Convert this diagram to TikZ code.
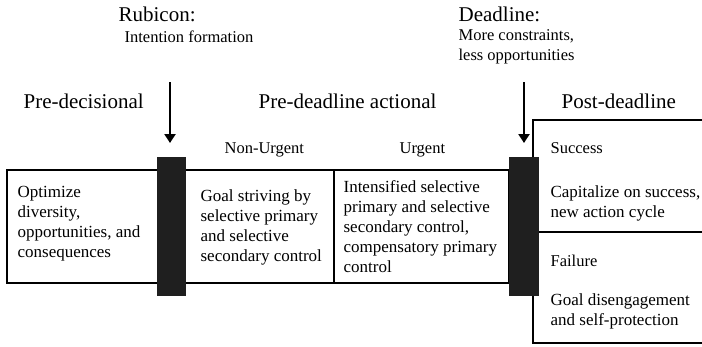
\documentclass[tikz,border=0pt]{standalone}
\usepackage{fontspec}
\setmainfont{Liberation Serif}
\usetikzlibrary{arrows.meta}
\begin{document}
\begin{tikzpicture}[x=1pt,y=-1pt,line width=1.2pt,
    phase/.style={font=\fontsize{21}{24}\selectfont,inner sep=0pt,anchor=base west},
    note/.style={font=\fontsize{16.5}{20}\selectfont,inner sep=0pt,anchor=base west,align=left},
    cell/.style={font=\fontsize{17}{20}\selectfont,inner sep=0pt,anchor=west,align=left},
    gate/.style={fill=black!88,draw=none},
    cut/.style={-{Triangle[length=9pt,width=11pt]},line width=2.2pt}]
\useasboundingbox (0,0) rectangle (702,346);
% band of the phases
\draw (7,170) rectangle (509,283);
\draw (334,170) -- (334,283);
% post-deadline box, open to the right
\draw (702,120) -- (533,120) -- (533,343) -- (702,343);
\draw (533,232) -- (702,232);
% the two transitions
\fill[gate] (157,157) rectangle (186,296);
\fill[gate] (509,157) rectangle (539,296);
% labels over the transitions
\node[phase] (rubicon) at (118,21) {Rubicon:};
\node[note] (intention) at (124,42) {Intention formation};
\node[phase] (deadline) at (458,21) {Deadline:};
\node[note] (constraints) at (458,40) {More constraints,};
\node[note] (opportunities) at (458,60) {less opportunities};
\coordinate (r1) at (170,82);
\coordinate (r2) at (170,143);
\coordinate (d1) at (524,82);
\coordinate (d2) at (524,143);
\draw[cut] (r1) -- (r2);
\draw[cut] (d1) -- (d2);
% phase names
\node[phase] (predec) at (23,108) {Pre-decisional};
\node[phase] (preact) at (258,108) {Pre-deadline actional};
\node[phase] (post) at (561,108) {Post-deadline};
\node[note] (nonurgent) at (224,153) {Non-Urgent};
\node[note] (urgent) at (399,153) {Urgent};
\node[note] (success) at (550,153) {Success};
\node[note] (failure) at (550,266) {Failure};
% contents
\node[cell] (optimize) at (17,224) {Optimize\\diversity,\\opportunities, and\\consequences};
\node[cell] (striving) at (200,227) {Goal striving by\\selective primary\\and selective\\secondary control};
\node[cell] (intensified) at (343,227) {Intensified selective\\primary and selective\\secondary control,\\compensatory primary\\control};
\node[cell] (capitalize) at (550,203) {Capitalize on success,\\new action cycle};
\node[cell] (disengage) at (550,311) {Goal disengagement\\and self-protection};
\end{tikzpicture}
\end{document}
